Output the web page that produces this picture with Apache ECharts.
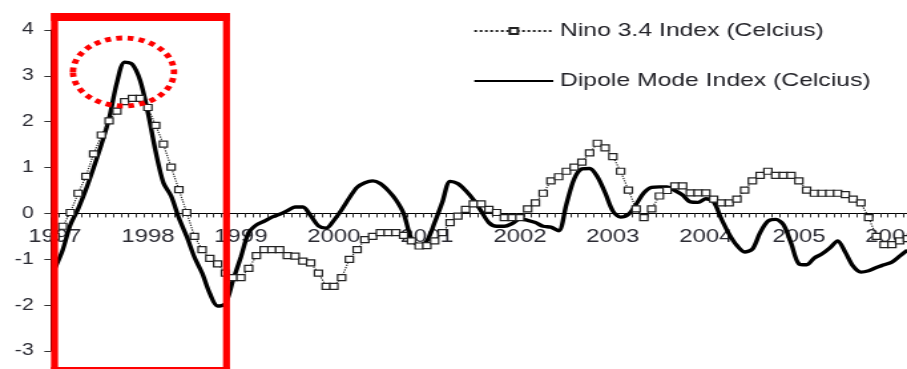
<!DOCTYPE html>
<html>
<head>
<meta charset="utf-8">
<script src="https://cdn.jsdelivr.net/npm/echarts@6/dist/echarts.min.js"></script>
<style>
  html, body { margin: 0; padding: 0; background: #fff; }
  #frame { width: 907px; height: 369px; overflow: hidden; position: relative; }
  /* the chart is laid out on a narrower canvas and widened horizontally */
  #chart { width: 682px; height: 369px; transform: scaleX(1.329912); transform-origin: 0 0; }
</style>
</head>
<body>
<div id="frame"><div id="chart"></div></div>
<script>
// Year tick labels (one per January)
const years = ['1997', '1998', '1999', '2000', '2001', '2002', '2003', '2004', '2005', '2006'];
const monthsShown = 111; // Jan 1997 .. Mar 2006

// Monthly Nino 3.4 index (deg C)
const nino1997 = [-0.5, -0.28, 0.02, 0.44, 0.81, 1.30, 1.71, 2.02, 2.23, 2.44, 2.51, 2.51];
const nino1998 = [2.31, 1.92, 1.51, 1.01, 0.52, 0.02, -0.5, -0.79, -0.98, -1.1, -1.3, -1.4];
const nino1999 = [-1.4, -1.2, -0.92, -0.79, -0.79, -0.79, -0.92, -0.93, -1.04, -1.08, -1.3, -1.59];
const nino2000 = [-1.59, -1.4, -1.0, -0.79, -0.57, -0.5, -0.42, -0.42, -0.42, -0.48, -0.6, -0.71];
const nino2001 = [-0.7, -0.6, -0.42, -0.2, -0.06, 0.09, 0.21, 0.21, 0.09, 0.02, -0.09, -0.09];
const nino2002 = [-0.09, 0.1, 0.23, 0.44, 0.71, 0.8, 0.92, 1.01, 1.12, 1.32, 1.53, 1.43];
const nino2003 = [1.24, 0.92, 0.51, 0.1, -0.09, 0.1, 0.38, 0.5, 0.6, 0.6, 0.45, 0.45];
const nino2004 = [0.45, 0.31, 0.23, 0.23, 0.31, 0.51, 0.71, 0.83, 0.92, 0.83, 0.83, 0.83];
const nino2005 = [0.71, 0.51, 0.44, 0.44, 0.44, 0.44, 0.41, 0.31, 0.23, -0.09, -0.5, -0.68];
const nino2006 = [-0.68, -0.6, -0.55];

// Monthly Dipole Mode Index (deg C)
const dmi1997 = [-1.2, -0.8, -0.25, 0.1, 0.52, 1.0, 1.5, 2.07, 2.85, 3.3, 3.25, 2.9];
const dmi1998 = [2.2, 1.35, 0.67, 0.38, -0.1, -0.5, -0.95, -1.3, -1.75, -2.02, -1.97, -1.45];
const dmi1999 = [-0.95, -0.42, -0.25, -0.17, -0.08, -0.02, 0.06, 0.14, 0.14, -0.05, -0.27, -0.32];
const dmi2000 = [-0.15, 0.08, 0.34, 0.57, 0.67, 0.71, 0.65, 0.5, 0.3, 0.0, -0.55, -0.7];
const dmi2001 = [-0.6, -0.2, 0.25, 0.7, 0.65, 0.5, 0.3, 0.05, -0.2, -0.28, -0.28, -0.22];
const dmi2002 = [-0.12, -0.15, -0.2, -0.28, -0.3, -0.38, 0.2, 0.75, 0.97, 0.98, 0.8, 0.45];
const dmi2003 = [0.05, -0.08, -0.02, 0.2, 0.45, 0.57, 0.58, 0.58, 0.5, 0.4, 0.25, 0.24];
const dmi2004 = [0.32, 0.25, -0.12, -0.45, -0.7, -0.84, -0.78, -0.42, -0.17, -0.13, -0.24, -0.65];
const dmi2005 = [-1.1, -1.12, -0.97, -0.88, -0.75, -0.6, -0.85, -1.15, -1.28, -1.25, -1.18, -1.12];
const dmi2006 = [-1.06, -0.93, -0.8];

const ninoName = 'Nino 3.4 Index (Celcius)';
const dmiName = 'Dipole Mode Index (Celcius)';

const nino = [].concat(nino1997, nino1998, nino1999, nino2000, nino2001,
                       nino2002, nino2003, nino2004, nino2005, nino2006);
const dmi = [].concat(dmi1997, dmi1998, dmi1999, dmi2000, dmi2001,
                      dmi2002, dmi2003, dmi2004, dmi2005, dmi2006);

// Month categories "YYYY-MM"
const categories = [];
for (let i = 0; i < monthsShown; i++) {
  const y = years[Math.floor(i / 12)];
  const m = (i % 12) + 1;
  categories.push(y + '-' + (m < 10 ? '0' + m : m));
}

// horizontal stretch between layout space and screen space
const STRETCH = 907 / 682;
const xs = (px) => px / STRETCH;

const FONT = "'Liberation Sans', Arial, sans-serif";
const RED = '#ff0000';
const MONTH_PX = 7.75;

const Y_MIN = -3, Y_MAX = 4;
const GRID_TOP = 30, GRID_H = 321;
// distance from the bottom of the plot up to the zero line
const zeroLift = GRID_H * (0 - Y_MIN) / (Y_MAX - Y_MIN);

const chart = echarts.init(document.getElementById('chart'), null, { renderer: 'canvas' });

chart.setOption({
  animation: false,
  backgroundColor: '#ffffff',
  grid: {
    left: xs(51),
    top: GRID_TOP,
    height: GRID_H,
    width: xs(monthsShown * MONTH_PX),
    containLabel: false,
    outerBoundsMode: 'none'
  },
  legend: {
    orient: 'vertical',
    left: xs(473),
    top: 21,
    padding: 0,
    itemWidth: xs(552) - xs(473),
    itemHeight: 7.5,
    itemGap: 30,
    selectedMode: false,
    textStyle: { fontFamily: FONT, fontSize: 18.6, lineHeight: 20, color: '#222228' },
    data: [
      { name: ninoName },
      { name: dmiName, itemStyle: { opacity: 0 } }
    ]
  },
  xAxis: {
    type: 'category',
    data: categories,
    boundaryGap: true,
    position: 'bottom',
    offset: -zeroLift,
    axisLine: { onZero: false, lineStyle: { color: '#000', width: 1 } },
    axisTick: { show: true, interval: 0, length: 4, lineStyle: { color: '#333', width: 1 } },
    axisLabel: {
      interval: (idx) => idx % 12 === 0,
      formatter: (v) => v.slice(0, 4),
      margin: 15,
      fontFamily: FONT,
      fontSize: 18,
      color: '#2b2b33'
    },
    splitLine: { show: false }
  },
  yAxis: {
    type: 'value',
    min: Y_MIN,
    max: Y_MAX,
    interval: 1,
    axisLine: { show: true, lineStyle: { color: '#000', width: 1 } },
    axisTick: { show: true, length: 5, lineStyle: { color: '#333', width: 1 } },
    axisLabel: { margin: 13, fontFamily: FONT, fontSize: 16, color: '#2b2b33' },
    splitLine: { show: false }
  },
  series: [
    {
      name: ninoName,
      type: 'line',
      data: nino,
      z: 4,
      symbol: 'rect',
      symbolSize: 6,
      showAllSymbol: true,
      itemStyle: { color: '#ffffff', borderColor: '#222', borderWidth: 1.2 },
      lineStyle: { color: '#222', width: 1.2, type: 'dotted' }
    },
    {
      name: dmiName,
      type: 'line',
      data: dmi,
      z: 3,
      smooth: 0.3,
      symbol: 'none',
      itemStyle: { color: '#000' },
      lineStyle: { color: '#000', width: 3.4 }
    }
  ],
  graphic: [
    // highlight box around the 1997-98 event
    { type: 'rect', z: 100, shape: { x: xs(51), y: 13, width: xs(58) - xs(51), height: 370 }, style: { fill: RED } },
    { type: 'rect', z: 100, shape: { x: xs(223), y: 13, width: xs(230) - xs(223), height: 370 }, style: { fill: RED } },
    { type: 'rect', z: 100, shape: { x: xs(51), y: 13, width: xs(230) - xs(51), height: 8 }, style: { fill: RED } },
    { type: 'rect', z: 100, shape: { x: xs(51), y: 367, width: xs(230) - xs(51), height: 8 }, style: { fill: RED } },
    // dotted ring around the dipole peak
    {
      type: 'ellipse', z: 100,
      shape: { cx: xs(123.5), cy: 72, rx: xs(50.5), ry: 34 },
      style: { fill: 'none', stroke: RED, lineWidth: 4.8, lineDash: [4.5, 4] }
    }
  ]
});
</script>
</body>
</html>
